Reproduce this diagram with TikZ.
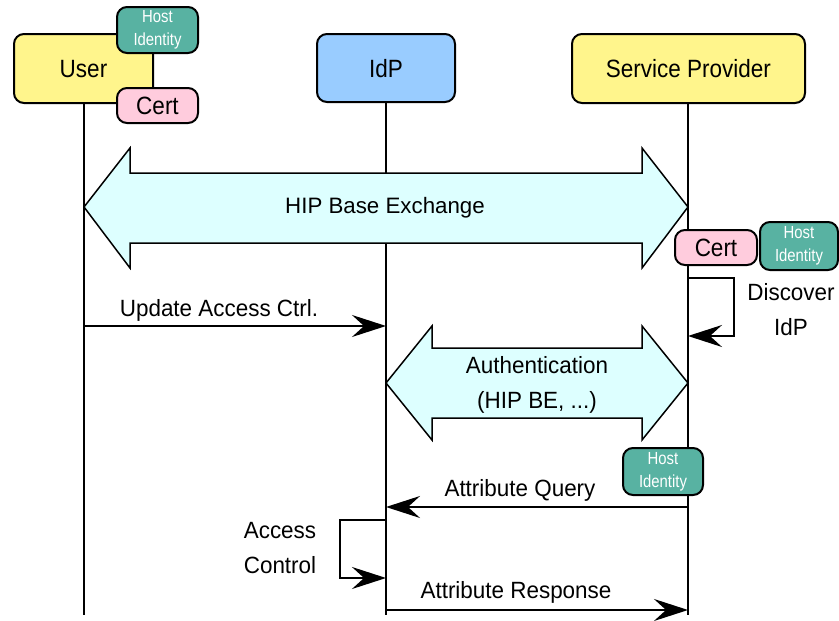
\documentclass[tikz,border=0pt]{standalone}
\usepackage{fontspec}
\setmainfont{Liberation Sans}
\newfontfamily\boxfont{Liberation Sans}[FakeStretch=0.9]
\newfontfamily\labelfont{Liberation Sans}[FakeStretch=0.955]
\newfontfamily\smallfont{Liberation Sans}[FakeStretch=0.85]
\usetikzlibrary{arrows.meta}
\definecolor{actoryellow}{HTML}{FFF58C}
\definecolor{idpblue}{HTML}{99CCFF}
\definecolor{certpink}{HTML}{FFCCDD}
\definecolor{hiteal}{HTML}{58B2A2}
\definecolor{xchgcyan}{HTML}{DDFFFF}
\tikzset{
  actor/.style={draw, line width=2pt, rounded corners=10pt, inner sep=0pt, text depth=0pt,
    font=\boxfont\fontsize{25}{28}\selectfont},
  certbox/.style={draw, line width=2pt, fill=certpink, rounded corners=10pt, inner sep=0pt,
    text depth=0pt, minimum height=35pt, font=\boxfont\fontsize{25}{28}\selectfont},
  hibox/.style={draw, line width=2pt, fill=hiteal, rounded corners=10pt, inner sep=0pt,
    text=white, align=center, font=\smallfont\fontsize{17.5}{23}\selectfont},
  lifeline/.style={line width=2pt},
  msg/.style={line width=2pt, -{Stealth[length=34pt, width=22pt, inset=12pt]}},
  xchg/.style={draw, line width=1.5pt, fill=xchgcyan, line join=miter},
  lbl/.style={font=\labelfont\fontsize{23.5}{35}\selectfont, inner sep=0pt, align=center},
}
\begin{document}
\begin{tikzpicture}[x=1pt, y=-1pt]
\useasboundingbox (0,0) rectangle (839,621);

% lifelines
\coordinate (uTop) at (84,103);   \coordinate (uBot) at (84,615);
\coordinate (iTop) at (386,102);  \coordinate (iBot) at (386,615);
\coordinate (sTop) at (688,103);  \coordinate (sBot) at (688,615);
\draw[lifeline] (uTop) -- (uBot);
\draw[lifeline] (iTop) -- (iBot);
\draw[lifeline] (sTop) -- (sBot);

% HIP base exchange between user and service provider
\draw[xchg] (84,207) -- (130,148) -- (130,173) -- (642,173) -- (642,148) -- (688,207)
  -- (642,268) -- (642,243) -- (130,243) -- (130,268) -- cycle;
\node[lbl, font=\fontsize{22.3}{26}\selectfont] (hipbe) at (385,208) {HIP Base Exchange};

% authentication between IdP and service provider
\draw[xchg] (386,383) -- (432,326) -- (432,348) -- (642,348) -- (642,326) -- (688,383)
  -- (642,440) -- (642,418) -- (432,418) -- (432,440) -- cycle;
\node[lbl] (auth) at (537,385) {Authentication\\(HIP BE, ...)};

% messages
\coordinate (m1a) at (84,326);  \coordinate (m1b) at (386,326);
\draw[msg] (m1a) -- (m1b);
\node[lbl] (m1l) at (219,310) {Update Access Ctrl.};

\coordinate (d1) at (688,278); \coordinate (d2) at (734,278);
\coordinate (d3) at (734,336); \coordinate (d4) at (688,336);
\draw[msg] (d1) -- (d2) -- (d3) -- (d4);
\node[lbl] (discover) at (791,310) {Discover\\IdP};

\coordinate (q1) at (688,507); \coordinate (q2) at (386,507);
\draw[msg] (q1) -- (q2);
\node[lbl] (ql) at (520,490) {Attribute Query};

\coordinate (a1) at (386,520); \coordinate (a2) at (340,520);
\coordinate (a3) at (340,578); \coordinate (a4) at (386,578);
\draw[msg] (a1) -- (a2) -- (a3) -- (a4);
\node[lbl] (access) at (280,548) {Access\\Control};

\coordinate (r1) at (386,610); \coordinate (r2) at (688,610);
\draw[msg] (r1) -- (r2);
\node[lbl] (rl) at (516,592) {Attribute Response};

% participants
\node[actor, fill=actoryellow, minimum width=139pt, minimum height=69pt] (user) at (83.5,68.5) {User};
\node[actor, fill=idpblue, minimum width=138pt, minimum height=68pt] (idp) at (386,68) {IdP};
\node[actor, fill=actoryellow, minimum width=233pt, minimum height=69pt] (sp) at (688.5,68.5) {Service Provider};

% credentials
\node[hibox, minimum width=81pt, minimum height=46pt] (uhi) at (157.5,30) {Host\\Identity};
\node[certbox, minimum width=81pt] (ucert) at (157.5,105.5) {Cert};
\node[certbox, minimum width=82pt] (scert) at (716,247.5) {Cert};
\node[hibox, minimum width=78pt, minimum height=48pt] (shi) at (799,246) {Host\\Identity};
\node[hibox, minimum width=80pt, minimum height=47pt] (qhi) at (663,471.5) {Host\\Identity};
\end{tikzpicture}
\end{document}
